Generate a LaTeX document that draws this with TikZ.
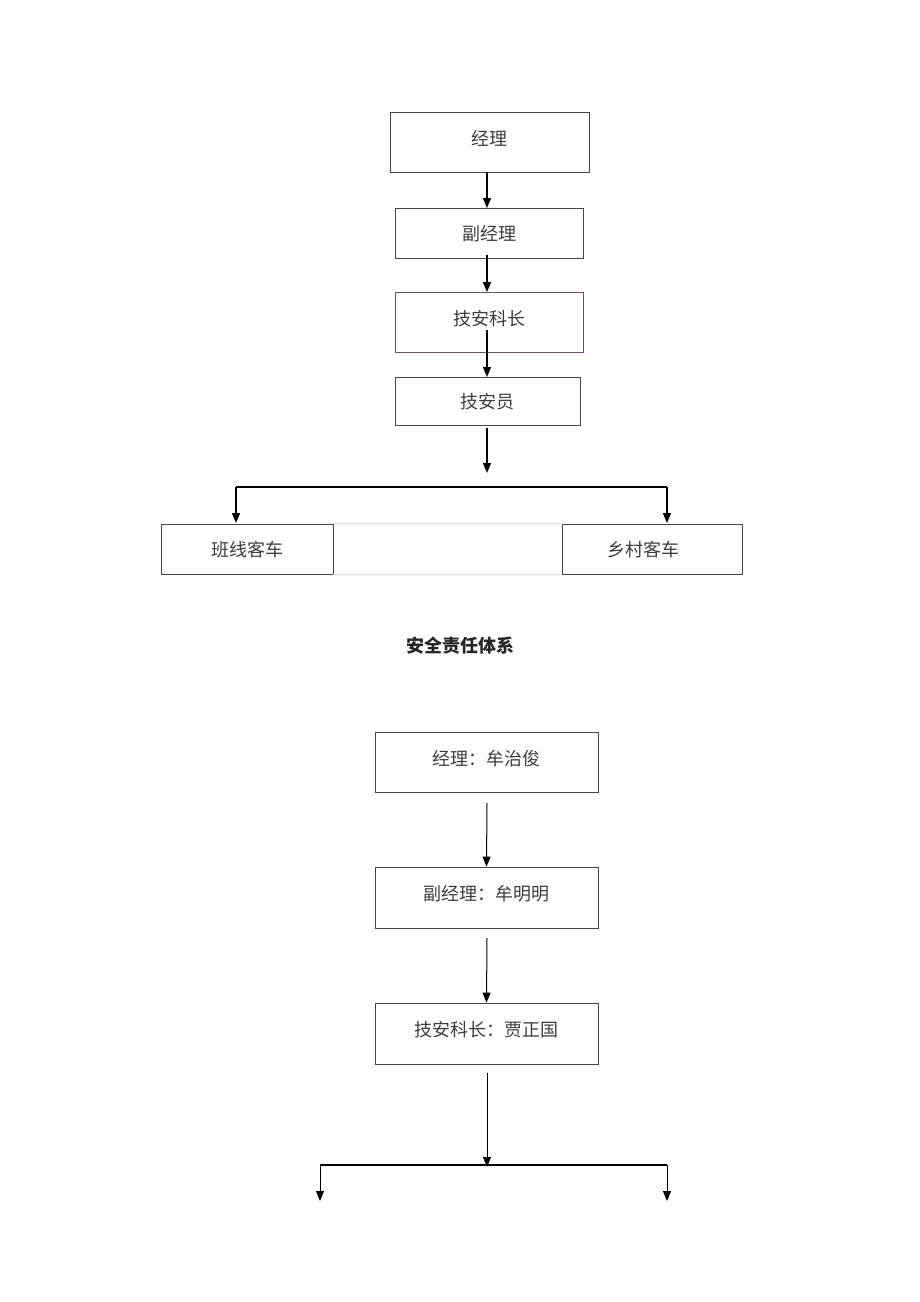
\documentclass[tikz,border=0pt]{standalone}
\usepackage{fontspec}
\newfontfamily\cjk{Noto Sans CJK SC}
\usetikzlibrary{arrows.meta}
\definecolor{boxline}{RGB}{70,70,70}
\definecolor{pinkline}{RGB}{110,80,110}
\definecolor{txt}{RGB}{60,60,60}
\begin{document}
\begin{tikzpicture}[x=1pt,y=-1pt,
  box/.style={draw=boxline,line width=0.9pt,inner sep=0pt,text height=13pt,text depth=7pt,font=\cjk\fontsize{18}{18}\selectfont,text=txt},
  flat/.style={text height=14pt,text depth=0pt},
  arr/.style={line width=1.4pt,-{Triangle[width=8pt,length=10pt]}},
  arrb/.style={line width=1pt,-{Triangle[width=8pt,length=10pt]}},
  ln/.style={line width=1.2pt}]
\useasboundingbox (0,0) rectangle (920,1302);
% top chart
\node[box,minimum width=199pt,minimum height=60pt] (a) at (489.5,142) {经理};
\node[box,flat,minimum width=188pt,minimum height=50pt] (b) at (489,233) {副经理};
\node[box,draw=pinkline,minimum width=188pt,minimum height=60pt] (c) at (489,322) {技安科长};
\node[box,flat,minimum width=185pt,minimum height=48pt] (d) at (487.5,401) {技安员};
\node[box,flat,minimum width=172pt,minimum height=50pt] (e) at (247,549) {班线客车};
\node[box,flat,minimum width=180pt,minimum height=50pt] (f) at (652,549) {乡村客车\hspace*{18pt}};
\draw[gray!40,densely dotted,line width=0.6pt] (e.north east) -- (f.north west);
\draw[gray!40,densely dotted,line width=0.6pt] (e.south east) -- (f.south west);
\draw[arr] (487,172) -- (487,208);
\draw[arr] (487,255) -- (487,292);
\draw[arr] (487,330) -- (487,377);
\coordinate (j1) at (487,473);
\draw[arr] (487,428) -- (j1);
\coordinate (l1) at (236,487);
\coordinate (r1) at (667,487);
\draw[ln] (l1) -- (r1);
\draw[arr] (l1) -- (236,523);
\draw[arr] (r1) -- (667,523);
% title
\node[font=\cjk\bfseries\fontsize{18}{18}\selectfont,text=black!85] (t) at (460,646) {安全责任体系};
% bottom chart
\node[box,minimum width=223pt,minimum height=60pt] (g) at (486.5,762) {经理：牟治俊};
\node[box,minimum width=223pt,minimum height=61pt] (h) at (486.5,897.5) {副经理：牟明明};
\node[box,minimum width=223pt,minimum height=61pt] (i) at (486.5,1033.5) {技安科长：贾正国};
\draw[arrb] (487,803) -- (h.north);
\draw[arrb] (487,938) -- (i.north);
\coordinate (j2) at (487,1167);
\draw[arrb] (487,1073) -- (j2);
\coordinate (l2) at (320,1165);
\coordinate (r2) at (667,1165);
\draw[ln] (l2) -- (r2);
\draw[arrb] (l2) -- (320,1201);
\draw[arrb] (r2) -- (667,1201);
\end{tikzpicture}
\end{document}
